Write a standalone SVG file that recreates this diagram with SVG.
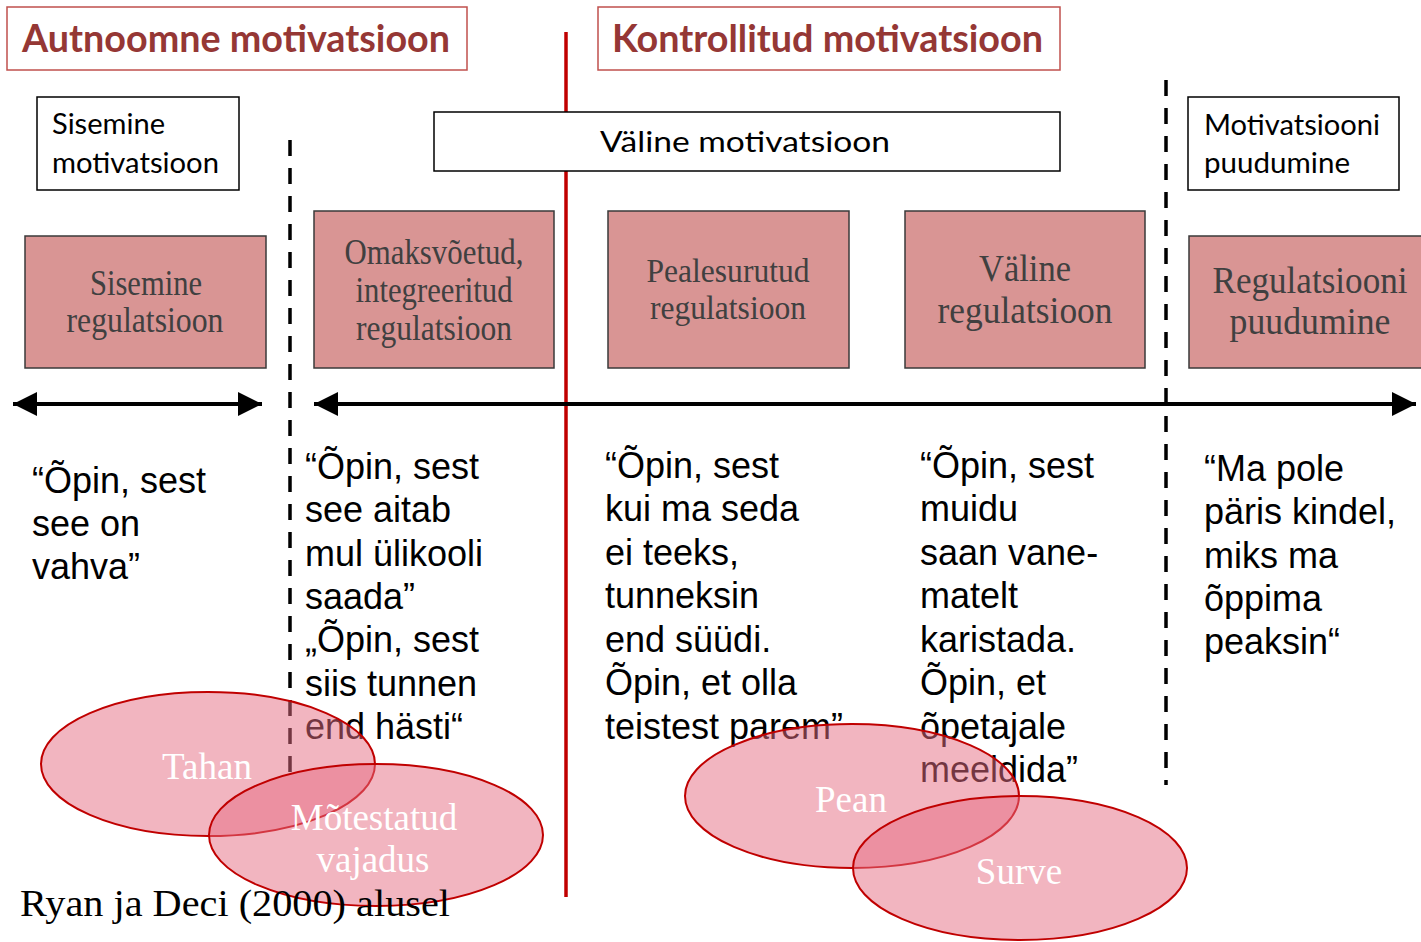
<svg xmlns="http://www.w3.org/2000/svg" width="1421" height="942" viewBox="0 0 1421 942">
<style>
.title{fill:#fff;stroke:#c0504d;stroke-width:1.5}
.ttl{font-family:Lato,"Liberation Sans",sans-serif;font-weight:bold;font-size:38px;fill:#953735}
.wbox{fill:#fff;stroke:#000;stroke-width:1.5}
.wt{font-family:Lato,"Liberation Sans",sans-serif;font-size:28px;fill:#000}
.pbox{fill:#d99594;stroke:#3a3a3a;stroke-width:1.5}
.pt{font-family:"Liberation Serif",serif;fill:#404040;text-anchor:middle}
.q{font-family:"Liberation Sans",Arial,sans-serif;font-size:36px;fill:#000}
.dash{stroke:#000;stroke-width:3.5;stroke-dasharray:16 12;fill:none}
.ell{fill:#e56b81;fill-opacity:0.5;stroke:#c00000;stroke-width:2}
.et{font-family:"Liberation Serif",serif;font-size:37px;fill:#fff;text-anchor:middle}
.arr{stroke:#000;stroke-width:4;fill:none}
</style>
<defs>
<marker id="ah" markerUnits="userSpaceOnUse" markerWidth="26" markerHeight="24" refX="24" refY="12" orient="auto-start-reverse">
<path d="M0,0 L24,12 L0,24 Z" fill="#000"/>
</marker>
</defs>
<rect width="1421" height="942" fill="#fff"/>

<g id="title-autonomous">
<rect class="title" x="7" y="7" width="460" height="63"/>
<text class="ttl" x="22" y="52" textLength="428" lengthAdjust="spacingAndGlyphs">Autnoomne motivatsioon</text>
</g>
<g id="title-controlled">
<rect class="title" x="598" y="7" width="462" height="63"/>
<text class="ttl" x="612" y="52" textLength="431" lengthAdjust="spacingAndGlyphs">Kontrollitud motivatsioon</text>
</g>

<g id="red-divider">
<line x1="566" y1="32" x2="566" y2="897" stroke="#c00000" stroke-width="3.5"/>
</g>

<g id="box-sisemine-motivatsioon">
<rect class="wbox" x="37" y="97" width="202" height="93"/>
<text class="wt" x="52" y="134" textLength="113" lengthAdjust="spacingAndGlyphs">Sisemine</text>
<text class="wt" x="52" y="173" textLength="167" lengthAdjust="spacingAndGlyphs">motivatsioon</text>
</g>
<g id="box-valine-motivatsioon">
<rect class="wbox" x="434" y="112" width="626" height="59"/>
<text class="wt" x="600" y="152" textLength="290" lengthAdjust="spacingAndGlyphs">Väline motivatsioon</text>
</g>
<g id="box-motivatsiooni-puudumine">
<rect class="wbox" x="1188" y="97" width="211" height="93"/>
<text class="wt" x="1204" y="135" textLength="176" lengthAdjust="spacingAndGlyphs">Motivatsiooni</text>
<text class="wt" x="1204" y="173" textLength="146" lengthAdjust="spacingAndGlyphs">puudumine</text>
</g>

<g id="dividers">
<line class="dash" x1="290" y1="140" x2="290" y2="780"/>
<line class="dash" x1="1166" y1="80" x2="1166" y2="785"/>
</g>

<g id="reg-sisemine">
<rect class="pbox" x="25" y="236" width="241" height="132"/>
<text class="pt" font-size="35" x="146" y="295" textLength="112" lengthAdjust="spacingAndGlyphs">Sisemine</text>
<text class="pt" font-size="35" x="145" y="332" textLength="157" lengthAdjust="spacingAndGlyphs">regulatsioon</text>
</g>
<g id="reg-omaksvoetud">
<rect class="pbox" x="314" y="211" width="240" height="157"/>
<text class="pt" font-size="35" x="434" y="264" textLength="179" lengthAdjust="spacingAndGlyphs">Omaksvõetud,</text>
<text class="pt" font-size="35" x="434" y="302" textLength="157" lengthAdjust="spacingAndGlyphs">integreeritud</text>
<text class="pt" font-size="35" x="434" y="340" textLength="156" lengthAdjust="spacingAndGlyphs">regulatsioon</text>
</g>
<g id="reg-pealesurutud">
<rect class="pbox" x="608" y="211" width="241" height="157"/>
<text class="pt" font-size="34" x="728" y="282" textLength="163" lengthAdjust="spacingAndGlyphs">Pealesurutud</text>
<text class="pt" font-size="34" x="728" y="319" textLength="156" lengthAdjust="spacingAndGlyphs">regulatsioon</text>
</g>
<g id="reg-valine">
<rect class="pbox" x="905" y="211" width="240" height="157"/>
<text class="pt" font-size="38" x="1025" y="281" textLength="92" lengthAdjust="spacingAndGlyphs">Väline</text>
<text class="pt" font-size="38" x="1025" y="323" textLength="175" lengthAdjust="spacingAndGlyphs">regulatsioon</text>
</g>
<g id="reg-puudumine">
<rect class="pbox" x="1189" y="236" width="240" height="132"/>
<text class="pt" font-size="38" x="1310" y="293" textLength="195" lengthAdjust="spacingAndGlyphs">Regulatsiooni</text>
<text class="pt" font-size="38" x="1310" y="334" textLength="161" lengthAdjust="spacingAndGlyphs">puudumine</text>
</g>

<g id="connectors">
<line class="arr" x1="13" y1="404" x2="262" y2="404" marker-start="url(#ah)" marker-end="url(#ah)"/>
<line class="arr" x1="314" y1="404" x2="1416" y2="404" marker-start="url(#ah)" marker-end="url(#ah)"/>
</g>

<g id="quote-1">
<text class="q" x="32" y="493">“Õpin, sest</text>
<text class="q" x="32" y="536">see on</text>
<text class="q" x="32" y="579">vahva”</text>
</g>
<g id="quote-2">
<text class="q" x="305" y="479">“Õpin, sest</text>
<text class="q" x="305" y="522">see aitab</text>
<text class="q" x="305" y="566">mul ülikooli</text>
<text class="q" x="305" y="609">saada”</text>
<text class="q" x="305" y="652">„Õpin, sest</text>
<text class="q" x="305" y="696">siis tunnen</text>
<text class="q" x="305" y="739">end hästi“</text>
</g>
<g id="quote-3">
<text class="q" x="605" y="478">“Õpin, sest</text>
<text class="q" x="605" y="521">kui ma seda</text>
<text class="q" x="605" y="565">ei teeks,</text>
<text class="q" x="605" y="608">tunneksin</text>
<text class="q" x="605" y="652">end süüdi.</text>
<text class="q" x="605" y="695">Õpin, et olla</text>
<text class="q" x="605" y="739">teistest parem”</text>
</g>
<g id="quote-4">
<text class="q" x="920" y="478">“Õpin, sest</text>
<text class="q" x="920" y="521">muidu</text>
<text class="q" x="920" y="565">saan vane-</text>
<text class="q" x="920" y="608">matelt</text>
<text class="q" x="920" y="652">karistada.</text>
<text class="q" x="920" y="695">Õpin, et</text>
<text class="q" x="920" y="739">õpetajale</text>
<text class="q" x="920" y="782">meeldida”</text>
</g>
<g id="quote-5">
<text class="q" x="1204" y="481">“Ma pole</text>
<text class="q" x="1204" y="524">päris kindel,</text>
<text class="q" x="1204" y="568">miks ma</text>
<text class="q" x="1204" y="611">õppima</text>
<text class="q" x="1204" y="654">peaksin“</text>
</g>

<g id="ellipse-tahan">
<ellipse class="ell" cx="208" cy="764" rx="167" ry="72"/>
<text class="et" x="207" y="779">Tahan</text>
</g>
<g id="ellipse-motestatud">
<ellipse class="ell" cx="376" cy="835" rx="167" ry="71"/>
<text class="et" x="374" y="830">Mõtestatud</text>
<text class="et" x="373" y="872">vajadus</text>
</g>
<g id="ellipse-pean">
<ellipse class="ell" cx="852" cy="796" rx="167" ry="72"/>
<text class="et" x="851" y="812">Pean</text>
</g>
<g id="ellipse-surve">
<ellipse class="ell" cx="1020" cy="868" rx="167" ry="72"/>
<text class="et" x="1019" y="884">Surve</text>
</g>

<g id="source">
<text x="20" y="916" font-family="'Liberation Serif',serif" font-size="38" fill="#000" textLength="430" lengthAdjust="spacingAndGlyphs">Ryan ja Deci (2000) alusel</text>
</g>
</svg>
